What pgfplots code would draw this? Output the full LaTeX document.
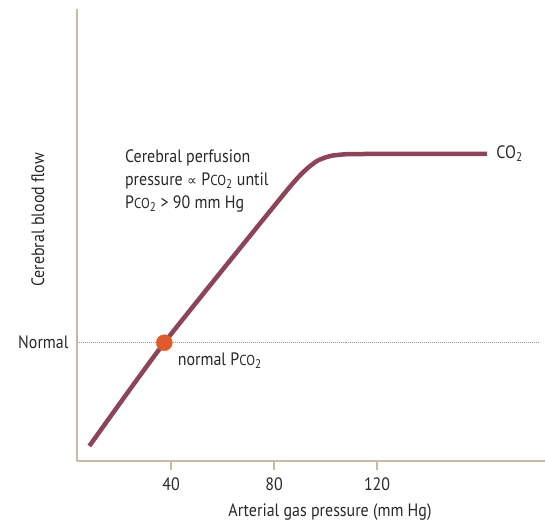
\documentclass[border=0pt]{standalone}
\usepackage{fontspec}
\setmainfont[FakeStretch=0.89]{PT Sans}
\newfontfamily\symfont{DejaVu Sans}
\usepackage{pgfplots}
\pgfplotsset{compat=1.18}
\definecolor{axisgray}{RGB}{196,188,168}
\definecolor{curve}{RGB}{142,68,88}
\definecolor{dot}{RGB}{224,90,43}
\definecolor{txt}{RGB}{40,40,40}
\newcommand{\pco}{P{\fontsize{14.5}{14.5}\selectfont CO}\textsubscript{2}}
\begin{document}
\begin{tikzpicture}[x=1bp,y=1bp]
\begin{axis}[
  scale only axis,
  width=468bp, height=451bp,
  xmin=3.5, xmax=185.2,
  ymin=0, ymax=451,
  axis lines=left,
  axis line style={axisgray, line width=2bp, -},
  xtick={40,80,120},
  ytick={117.8},
  yticklabels={Normal},
  tick align=outside,
  major tick length=9bp,
  xtick style={axisgray, line width=1.5bp},
  ytick style={draw=none},
  tick label style={font=\fontsize{18}{18}\selectfont, text=txt},
  /pgf/number format/assume math mode=true,
  xticklabel style={yshift=-5bp},
  yticklabel style={xshift=4bp},
  xlabel={Arterial gas pressure (mm Hg)},
  xlabel style={font=\fontsize{18}{18}\selectfont, text=txt, yshift=-6bp, xshift=19bp},
  clip=false,
]
\addplot[densely dotted, color=axisgray!80!black, line width=1bp] coordinates {(3.5,117.8) (183,117.8)};
\addplot[curve, line width=4.5bp, smooth, tension=0.35, line cap=butt] coordinates {
  (8.3,14.5) (37.4,117.8) (84,267) (92,290) (97,300) (102,304.6) (108,306.3)
  (116,306.5) (162.7,306.5)};
\addplot[only marks, mark=*, mark size=8bp, color=dot] coordinates {(37.4,117.8)};
\node[anchor=west, text=txt, font=\fontsize{18}{18}\selectfont] at (axis cs:165,306.5) {CO\textsubscript{2}};
\node[anchor=west, text=txt, font=\fontsize{18}{18}\selectfont] at (axis cs:41.3,99.5) {normal \pco};
\node[anchor=north west, text=txt, align=left, font=\fontsize{18}{23}\selectfont, inner sep=0pt] at (axis cs:22.1,311) {Cerebral perfusion\\pressure {\symfont\fontsize{14}{14}\selectfont ∝} \pco{} until\\\pco{} > 90 mm Hg};
\node[rotate=90, text=txt, font=\fontsize{18}{18}\selectfont] at (axis cs:-11.7,240.5) {Cerebral blood flow};
\end{axis}
\pgfresetboundingbox
\path (current axis.south west) ++(-77bp,-63.5bp) rectangle ++(545bp,524bp);
\end{tikzpicture}
\end{document}
